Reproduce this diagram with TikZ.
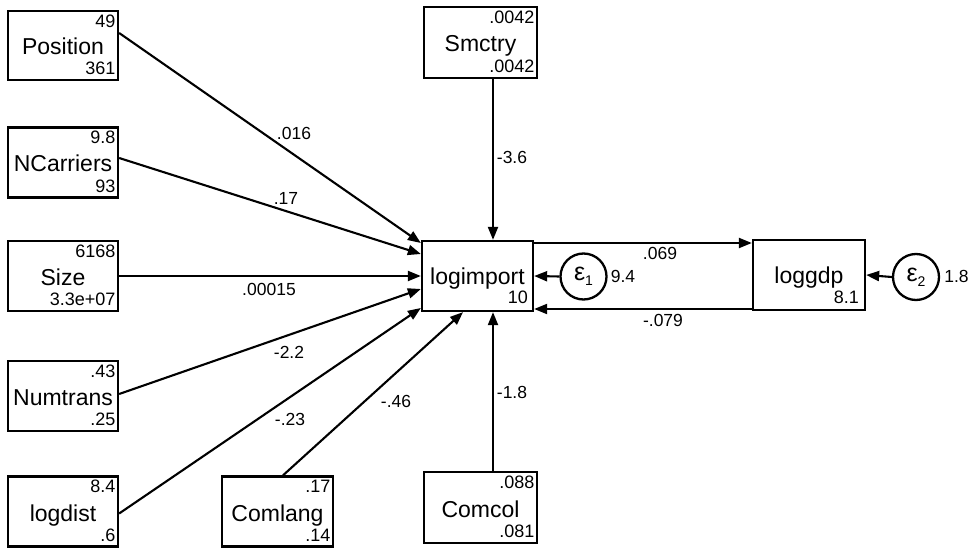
\documentclass[tikz,border=0pt]{standalone}
\usepackage{fontspec}
\setmainfont{Liberation Sans}
\usetikzlibrary{arrows.meta,calc}
\tikzset{
  box/.style={draw, line width=2.3pt, inner sep=0pt, minimum width=111pt, minimum height=70pt,
     font=\fontsize{23}{23}\selectfont, text height=19pt, text depth=0pt},
  endo/.style={box, text height=17pt},
  num/.style={inner sep=0pt, font=\fontsize{18}{18}\selectfont},
  lbl/.style={inner sep=0pt, font=\fontsize{17.5}{17.5}\selectfont, text height=12pt, text depth=0pt},
  err/.style={draw, circle, line width=2.3pt, inner sep=0pt, minimum size=46pt},
  conn/.style={line width=2.1pt, -{Triangle[length=13pt,width=10pt]}},
}
\newcommand{\eps}[1]{{\fontsize{25}{25}\selectfont ε}{\fontsize{14}{14}\selectfont\raisebox{-5pt}{#1}}}
\begin{document}
\begin{tikzpicture}[x=1pt,y=-1pt]
\useasboundingbox (0,0) rectangle (972,548);
% exogenous boxes
\node[box, minimum width=110pt, minimum height=69pt] (pos) at (63,45.5) {Position};
\node[box, minimum width=110pt] (ncar) at (63,162.5) {NCarriers};
\node[box, minimum width=110pt] (size) at (63,276) {Size};
\node[box, minimum width=110pt] (numt) at (63,396) {Numtrans};
\node[box, minimum width=110pt] (logd) at (63,511.5) {logdist};
\node[box, minimum width=111pt] (coml) at (277.5,511.5) {Comlang};
\node[box, minimum width=113pt, minimum height=71pt] (comc) at (480.5,507.5) {Comcol};
\node[box, minimum width=113pt, minimum height=71pt] (smc) at (480.5,42.5) {Smctry};
% endogenous
\node[endo, minimum width=111pt] (li) at (477.5,276) {logimport};
\node[endo, minimum width=112pt] (lg) at (809,275) {loggdp};
% errors
\node[err] (e1) at (583.5,276.5) {\eps{1}};
\node[err] (e2) at (916,277) {\eps{2}};

% numbers in boxes
\foreach \n/\t/\b in {pos/49/361, ncar/9.8/93, size/6168/3.3e+07, numt/.43/.25, logd/8.4/.6, coml/.17/.14, comc/.088/.081, smc/.0042/.0042}{
  \node[num, anchor=base east] (\n-t) at ([xshift=-3.5pt,yshift=-17.5pt]\n.north east) {\t};
  \node[num, anchor=base east] (\n-b) at ([xshift=-3.5pt,yshift=6.5pt]\n.south east) {\b};
}
\node[num, anchor=base east] (li-b) at ([xshift=-6pt,yshift=9pt]li.south east) {10};
\node[num, anchor=base east] (lg-b) at ([xshift=-7pt,yshift=8pt]lg.south east) {8.1};
\node[lbl, anchor=west] (e1v) at ([xshift=3pt]e1.east) {9.4};
\node[lbl, anchor=west] (e2v) at ([xshift=4pt]e2.east) {1.8};

% connectors
\draw[conn] ([yshift=12.5pt]pos.east) -- ([yshift=33pt]li.west);
\draw[conn] ([yshift=4.5pt]ncar.east) -- ([yshift=22pt]li.west);
\draw[conn] (size.east) -- (li.west);
\draw[conn] ([yshift=2pt]numt.east) -- ([yshift=-13pt]li.west);
\draw[conn] ([yshift=-2pt]logd.east) -- ([yshift=-32pt]li.west);
\draw[conn] ([xshift=5.5pt]coml.north) -- ([xshift=-14.5pt]li.south);
\draw[conn] ([xshift=12.5pt]comc.north) -- ([xshift=15.5pt]li.south);
\draw[conn] ([xshift=12.5pt]smc.south) -- ([xshift=15.5pt]li.north);
\draw[conn] ([yshift=33pt]li.east) -- ([yshift=32pt]lg.west);
\draw[conn] ([yshift=-34pt]lg.west) -- ([yshift=-33pt]li.east);
\draw[conn] (e1.west) -- (li.east);
\draw[conn] (e2.west) -- (lg.east);

% path labels
\node[lbl] (l1) at (294,134) {.016};
\node[lbl] (l2) at (286,199) {.17};
\node[lbl] (l3) at (269,289) {.00015};
\node[lbl] (l4) at (289,352) {-2.2};
\node[lbl] (l5) at (290,419) {-.23};
\node[lbl] (l6) at (396,401) {-.46};
\node[lbl] (l7) at (512,392) {-1.8};
\node[lbl] (l8) at (512,158) {-3.6};
\node[lbl] (l9) at (660,254) {.069};
\node[lbl] (l10) at (663,320) {-.079};
\end{tikzpicture}
\end{document}
